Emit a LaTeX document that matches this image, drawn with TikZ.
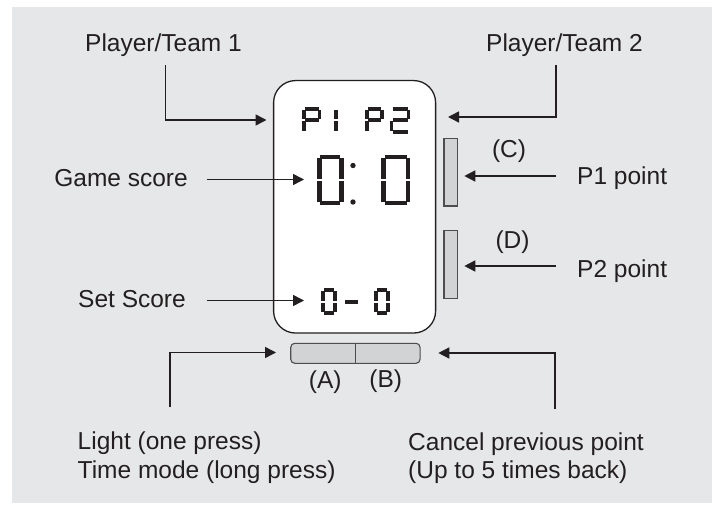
\documentclass[tikz,border=0pt]{standalone}
\usepackage{fontspec}
\setmainfont{Liberation Sans}
\usepackage{tikz}
\usetikzlibrary{arrows.meta, positioning}
\definecolor{ink}{HTML}{231F20}
\definecolor{panel}{HTML}{E6E7E8}
\definecolor{keyfill}{HTML}{D1D3D4}
\tikzset{>={Triangle[length=11pt, width=11pt]},
  lbl/.style={inner sep=0pt, text=ink, font=\fontsize{24.5}{28.5}\selectfont},
  conn/.style={->, draw=ink, line width=1.5pt},
  lcdseg/.style={draw=ink, line cap=butt},
  screen/.style={draw=ink, line width=1.3pt, fill=white, rounded corners=22pt, inner sep=0pt},
  keybox/.style={draw=ink!80, line width=1.1pt, fill=keyfill, inner sep=0pt}}

% one seven-segment cell: x, y, width, height, stroke, segments
\newcommand{\lcdchar}[6]{%
  \begin{scope}[shift={(#1,#2)}]
    \coordinate (a1) at (1,0);          \coordinate (a2) at ({#3-1},0);
    \coordinate (b1) at (#3,1);         \coordinate (b2) at (#3,{#4/2-1});
    \coordinate (c1) at (#3,{#4/2+1});  \coordinate (c2) at (#3,{#4-1});
    \coordinate (d1) at (1,#4);         \coordinate (d2) at ({#3-1},#4);
    \coordinate (e1) at (0,{#4/2+1});   \coordinate (e2) at (0,{#4-1});
    \coordinate (f1) at (0,1);          \coordinate (f2) at (0,{#4/2-1});
    \coordinate (g1) at (1,{#4/2});     \coordinate (g2) at ({#3-1},{#4/2});
    \foreach \s in {#6} \draw[lcdseg, line width=#5] (\s1) -- (\s2);
  \end{scope}}

\begin{document}
\begin{tikzpicture}[x=1pt, y=-1pt]
    \useasboundingbox (0,0) rectangle (717,505);
    \fill[panel] (12,7) rectangle (712,503);

    \node[screen, minimum width=162pt, minimum height=252.5pt] (disp) at (354.6,206.8) {};
    \node[keybox, minimum width=13.5pt, minimum height=67.7pt] (keyC) at (450.7,172.2) {};
    \node[keybox, minimum width=13.5pt, minimum height=68pt, below=23.3pt of keyC] (keyD) {};
    \node[keybox, rounded corners=4pt, minimum width=129.3pt, minimum height=20pt] (keyAB) at (355.4,353.3) {};
    \draw[ink!80, line width=1.1pt] (keyAB.north) -- (keyAB.south);

    % P1 P2
    \lcdchar{303.8}{108.8}{15.7}{23}{3.6pt}{a,b,e,f,g}
    \lcdchar{320.5}{108.8}{15.7}{23}{3.6pt}{b,c}
    \lcdchar{367.2}{108.8}{14.6}{23}{3.6pt}{a,b,e,f,g}
    \lcdchar{391.5}{108.8}{17}{23}{3.6pt}{a,b,g,e,d}
    % 0:0
    \lcdchar{319.3}{157}{22}{46}{4.8pt}{a,b,c,d,e,f}
    \lcdchar{383.7}{157}{24.3}{46}{4.8pt}{a,b,c,d,e,f}
    \fill[ink] (353,165.5) circle (2.7pt) (353,202) circle (2.7pt);
    % 0-0
    \lcdchar{323.4}{290}{11.6}{23.3}{4pt}{a,b,c,d,e,f}
    \lcdchar{344}{290}{15.3}{23.3}{4.2pt}{g}
    \lcdchar{376}{290}{12.3}{23.3}{4pt}{a,b,c,d,e,f}

    \node[lbl, anchor=base] (team1) at (163.5,52) {Player/Team 1};
    \node[lbl, anchor=base] (team2) at (564.5,52) {Player/Team 2};
    \node[lbl, anchor=base east] (game) at (188,187) {Game score};
    \node[lbl, anchor=base east] (set) at (186,307) {Set Score};
    \node[lbl, anchor=base west] (p1pt) at (577,185) {P1 point};
    \node[lbl, anchor=base west] (p2pt) at (577,277) {P2 point};
    \node[lbl, anchor=base] (labC) at (509,158) {(C)};
    \node[lbl, anchor=base] (labD) at (512.5,248) {(D)};
    \node[lbl, anchor=base] (labA) at (325.3,388) {(A)};
    \node[lbl, anchor=base] (labB) at (385.8,387) {(B)};
    \node[lbl, anchor=base west, align=left] (light) at (77.5,478) {Light (one press)\\Time mode (long press)};
    \node[lbl, anchor=base west, align=left] (cancel) at (408,478.5) {Cancel previous point\\(Up to 5 times back)};

    \coordinate (tip1) at (266.5,120);
    \coordinate (tip2) at (448,117);
    \coordinate (tipG) at (304,179.5);
    \coordinate (tipS) at (304,300.5);
    \coordinate (tipC) at (464.3,176);
    \coordinate (tipD) at (464.3,266);
    \coordinate (tipA) at (276,352.5);
    \coordinate (tipB) at (438.3,353);
    \coordinate (lightup) at (170,407.3);
    \coordinate (cancelup) at (555,409);

    \draw[conn] ([xshift=1.9pt, yshift=-8pt]team1.south) |- (tip1);
    \draw[conn] ([xshift=-8.5pt, yshift=-8pt]team2.south) |- (tip2);
    \draw[conn, shorten <=19pt] (game.east |- tipG) -- (tipG);
    \draw[conn, shorten <=21pt] (set.east |- tipS) -- (tipS);
    \draw[conn, shorten <=21pt] (p1pt.west |- tipC) -- (tipC);
    \draw[conn, shorten <=21pt] (p2pt.west |- tipD) -- (tipD);
    \draw[conn] (lightup) |- (tipA);
    \draw[conn] (cancelup) |- (tipB);
\end{tikzpicture}
\end{document}
